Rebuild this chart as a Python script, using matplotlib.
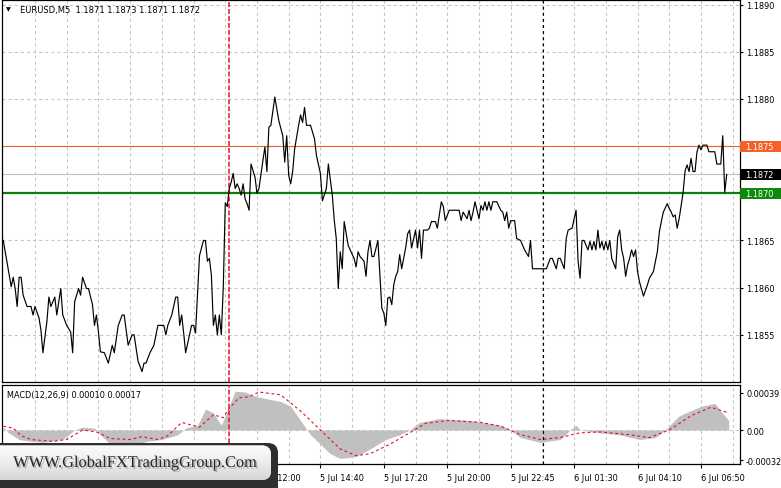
import matplotlib
matplotlib.use('Agg')
import matplotlib.pyplot as plt
import matplotlib.patheffects as pe
import matplotlib.transforms as mtransforms
from matplotlib.patches import FancyBboxPatch, Rectangle
from matplotlib.colors import LinearSegmentedColormap
import numpy as np

plt.rcParams['font.family'] = ['DejaVu Sans']
plt.rcParams['lines.scale_dashes'] = False

# ---------------- data ----------------
bar_idx = [0, 4, 5, 6, 7, 8, 9, 10, 12, 14, 15, 16, 18, 19, 20, 22, 23, 24, 26, 27, 29, 30, 32, 34, 35, 36, 38, 39, 40,
           42, 43, 45, 46, 47, 48, 49, 51, 53, 55, 56, 58, 60, 61, 63, 65, 66, 68, 70, 71, 72, 74, 76, 78, 81, 82, 83,
           85, 87, 88, 89, 90, 91, 92, 95, 96, 97, 98, 99, 101, 102, 103, 104, 105, 106, 107, 108, 109, 110, 111, 112,
           113, 114, 115, 116, 117, 118, 119, 120, 121, 122, 123, 124, 125, 126, 127, 128, 129, 131, 132, 133, 134, 135,
           137, 139, 141, 142, 143, 144, 145, 146, 147, 149, 150, 151, 152, 153, 155, 157, 158, 160, 161, 163, 164, 166,
           167, 168, 169, 170, 171, 172, 174, 175, 177, 178, 179, 180, 182, 183, 184, 185, 186, 187, 189, 190, 191, 192,
           193, 194, 195, 196, 197, 198, 199, 200, 201, 203, 204, 205, 206, 208, 209, 210, 211, 212, 214, 215, 216, 218,
           219, 220, 221, 222, 223, 225, 230, 231, 232, 234, 235, 236, 237, 238, 239, 240, 241, 242, 243, 244, 245, 246,
           247, 249, 251, 252, 253, 254, 255, 256, 258, 259, 261, 263, 265, 266, 267, 274, 276, 277, 279, 280, 281, 283,
           284, 285, 287, 288, 289, 290, 291, 292, 293, 295, 296, 297, 298, 299, 300, 301, 302, 303, 304, 305, 306, 307,
           309, 310, 311, 312, 313, 314, 315, 316, 317, 318, 319, 320, 321, 323, 325, 326, 328, 330, 331, 332, 333, 335,
           336, 337, 338, 339, 340, 341, 343, 344, 345, 346, 347, 348, 349, 350, 351, 352, 353, 355, 356, 359, 360, 362,
           363, 364, 365]
close = [1.18650, 1.18601, 1.18611, 1.18599, 1.18580, 1.18611, 1.18611, 1.18592, 1.18580, 1.18580, 1.18571, 1.18580,
         1.18568, 1.18555, 1.18531, 1.18564, 1.18590, 1.18580, 1.18590, 1.18571, 1.18599, 1.18571, 1.18560, 1.18553,
         1.18531, 1.18585, 1.18599, 1.18592, 1.18611, 1.18599, 1.18599, 1.18582, 1.18560, 1.18571, 1.18553, 1.18532,
         1.18531, 1.18520, 1.18539, 1.18531, 1.18560, 1.18571, 1.18571, 1.18539, 1.18550, 1.18550, 1.18522, 1.18511,
         1.18520, 1.18520, 1.18531, 1.18539, 1.18560, 1.18560, 1.18550, 1.18560, 1.18571, 1.18590, 1.18590, 1.18560,
         1.18571, 1.18552, 1.18531, 1.18560, 1.18560, 1.18552, 1.18592, 1.18634, 1.18650, 1.18650, 1.18628, 1.18631,
         1.18613, 1.18560, 1.18571, 1.18550, 1.18571, 1.18550, 1.18601, 1.18690, 1.18686, 1.18705, 1.18712, 1.18721,
         1.18705, 1.18710, 1.18705, 1.18698, 1.18710, 1.18694, 1.18689, 1.18682, 1.18731, 1.18724, 1.18717, 1.18700,
         1.18705, 1.18735, 1.18749, 1.18723, 1.18770, 1.18772, 1.18802, 1.18777, 1.18761, 1.18733, 1.18761, 1.18719,
         1.18710, 1.18723, 1.18747, 1.18772, 1.18783, 1.18775, 1.18791, 1.18772, 1.18772, 1.18758, 1.18740, 1.18721,
         1.18692, 1.18705, 1.18731, 1.18698, 1.18671, 1.18652, 1.18599, 1.18638, 1.18620, 1.18670, 1.18645, 1.18640,
         1.18631, 1.18622, 1.18638, 1.18633, 1.18628, 1.18612, 1.18638, 1.18650, 1.18633, 1.18633, 1.18650, 1.18613,
         1.18578, 1.18573, 1.18560, 1.18589, 1.18590, 1.18582, 1.18603, 1.18612, 1.18617, 1.18635, 1.18620, 1.18642,
         1.18657, 1.18661, 1.18642, 1.18661, 1.18642, 1.18661, 1.18631, 1.18661, 1.18661, 1.18663, 1.18670, 1.18670,
         1.18663, 1.18677, 1.18691, 1.18686, 1.18671, 1.18682, 1.18682, 1.18671, 1.18680, 1.18673, 1.18682, 1.18671,
         1.18680, 1.18691, 1.18682, 1.18673, 1.18687, 1.18682, 1.18691, 1.18682, 1.18691, 1.18682, 1.18691, 1.18691,
         1.18682, 1.18680, 1.18671, 1.18680, 1.18663, 1.18671, 1.18671, 1.18652, 1.18650, 1.18640, 1.18633, 1.18650,
         1.18620, 1.18620, 1.18631, 1.18631, 1.18620, 1.18631, 1.18631, 1.18620, 1.18652, 1.18661, 1.18663, 1.18673,
         1.18682, 1.18628, 1.18610, 1.18650, 1.18650, 1.18640, 1.18649, 1.18640, 1.18649, 1.18640, 1.18661, 1.18642,
         1.18649, 1.18640, 1.18649, 1.18640, 1.18650, 1.18631, 1.18620, 1.18654, 1.18661, 1.18640, 1.18631, 1.18612,
         1.18624, 1.18631, 1.18640, 1.18633, 1.18640, 1.18617, 1.18606, 1.18591, 1.18603, 1.18610, 1.18617, 1.18638,
         1.18659, 1.18670, 1.18680, 1.18689, 1.18684, 1.18680, 1.18675, 1.18677, 1.18663, 1.18673, 1.18701, 1.18724,
         1.18730, 1.18723, 1.18737, 1.18723, 1.18723, 1.18744, 1.18751, 1.18746, 1.18751, 1.18751, 1.18744, 1.18744,
         1.18731, 1.18731, 1.18761, 1.18701, 1.18720]

hist_idx = [0, 2, 8, 14, 20, 30, 36, 40, 46, 49, 54, 60, 66, 72, 80, 88, 92, 98, 102, 106, 110, 113, 117, 122, 128,
            140, 145, 150, 155, 160, 165, 170, 178, 185, 193, 200, 205, 210, 220, 236, 251, 256, 261, 271, 281, 286,
            289, 291, 301, 311, 321, 329, 334, 341, 352, 359, 366]
macd_hist = [0.00003, -0.00002, -0.00010, -0.00012, -0.00013, -0.00010, 0.0, 0.00003, 0.00002, -0.00005, -0.00015,
             -0.00020, -0.00018, -0.00012, -0.00010, -0.00005, 0.00002, 0.00005, 0.00022, 0.00018, 0.00005, 0.00020,
             0.00041, 0.00040, 0.00035, 0.00030, 0.00025, 0.00010, -0.00005, -0.00015, -0.00025, -0.00030, -0.00028,
             -0.00020, -0.00010, -0.00005, 0.0, 0.00008, 0.00012, 0.00010, 0.00005, 0.0, -0.00008, -0.00013, -0.00010,
             0.0, 0.00005, 0.0, -0.00003, -0.00005, -0.00010, -0.00008, 0.0, 0.00015, 0.00025, 0.00028, 0.00010]

signal_idx = [0, 5, 9, 14, 25, 32, 40, 47, 54, 64, 70, 78, 83, 90, 99, 106, 111, 114, 119, 124, 129, 140, 150, 160,
              170, 178, 185, 195, 205, 213, 225, 241, 251, 261, 271, 281, 291, 301, 316, 326, 336, 347, 357, 366]
signal = [0.00004, 0.00002, -0.00006, -0.00010, -0.00012, -0.00010, 0.0, -0.00002, -0.00009, -0.00010, -0.00007,
          -0.00010, -0.00006, 0.00008, 0.00003, 0.00016, 0.00013, 0.00023, 0.00034, 0.00035, 0.00040, 0.00037,
          0.00020, 0.0, -0.00020, -0.00027, -0.00025, -0.00015, -0.00003, 0.00007, 0.00010, 0.00008, 0.00004,
          -0.00005, -0.00010, -0.00008, -0.00003, -0.00002, -0.00005, -0.00008, 0.0, 0.00015, 0.00024, 0.00018]

price_ticks = [1.1855, 1.1860, 1.1865, 1.1870, 1.1875, 1.1880, 1.1885, 1.1890]
price_labels = ['1.1855', '1.1860', '1.1865', '', '', '1.1880', '1.1885', '1.1890']
resist_level = 1.1875
bid_level = 1.1872
support_level = 1.1870
macd_ticks = [0.00039, 0.0, -0.00032]
macd_labels = ['0.00039', '0.00', '-0.00032']
time_tick_bars = [32, 64, 96, 128, 160, 192, 224, 256, 288, 320, 352]
time_tick_labels = ['5 Jul 04:00', '5 Jul 06:40', '5 Jul 09:20', '5 Jul 12:00', '5 Jul 14:40', '5 Jul 17:20',
                    '5 Jul 20:00', '5 Jul 22:45', '6 Jul 01:30', '6 Jul 04:10', '6 Jul 06:50']
grid_bars = list(range(16, 372, 16))
red_vline_bar = 114
black_vline_bar = 272.3
title_text = 'EURUSD,M5  1.1871 1.1873 1.1871 1.1872'
macd_title = 'MACD(12,26,9) 0.00010 0.00017'
watermark = 'WWW.GlobalFXTradingGroup.Com'

# ---------------- layout ----------------
W, H = 781, 489
fig = plt.figure(figsize=(W / 100, H / 100), dpi=100)
fig.patch.set_facecolor('white')


def box(l, t, r, b):
    return [l / W, 1 - b / H, (r - l) / W, (b - t) / H]


ax = fig.add_axes(box(2, 1, 740.5, 383))
axm = fig.add_axes(box(2, 386, 740.5, 465))
XL = (-0.65, 371.95)
FS = 5.9
grid_kw = dict(color='#c4c4c4', lw=0.75, ls=(0, (2.2, 2.2)), zorder=0)
red_kw = dict(color='#e8102a', lw=1.1, ls=(0, (3.5, 1.5)), zorder=3)
blk_kw = dict(color='black', lw=0.8, ls=(0, (2.2, 2.2)), zorder=3)

# ---- main price panel ----
ax.set_xlim(*XL)
ax.set_ylim(1.18500, 1.189048)
for g in grid_bars:
    ax.axvline(g, **grid_kw)
for p in price_ticks:
    ax.axhline(p, **grid_kw)
ax.axhline(resist_level, color='#f0602a', lw=0.8, zorder=2)
ax.axhline(bid_level, color='#c0c0c0', lw=0.8, zorder=2)
ax.axhline(support_level, color='#0a800a', lw=1.6, zorder=2)
ax.axvline(red_vline_bar, **red_kw)
ax.axvline(black_vline_bar, **blk_kw)
ax.plot(bar_idx, close, color='black', lw=0.85, zorder=4)

ax.yaxis.tick_right()
ax.set_yticks(price_ticks)
ax.set_yticklabels(price_labels)
ax.tick_params(axis='y', direction='out', length=2, width=0.8, pad=2, labelsize=FS, colors='black')
ax.set_xticks([])
for s in ax.spines.values():
    s.set_color('black')
    s.set_linewidth(0.9)

# coloured price labels
yr = ax.get_ylim()
px_y = (yr[1] - yr[0]) / 382.0
tr = mtransforms.blended_transform_factory(ax.transAxes, ax.transData)
for lvl, col in [(resist_level, '#f4622a'), (bid_level, '#000000'), (support_level, '#0b8a0b')]:
    ax.add_patch(Rectangle((1.0, lvl - 5.5 * px_y), 42 / 738.5, 11 * px_y, transform=tr, facecolor=col,
                           edgecolor='none', clip_on=False, zorder=5))
    ax.text(1.0 + 5 / 738.5, lvl, f'{lvl:.4f}', transform=tr, color='white', fontsize=FS, va='center',
            ha='left', clip_on=False, zorder=6)

ax.text(18 / 738.5, 1 - 9 / 382, title_text, transform=ax.transAxes, fontsize=6, va='center', ha='left')
ax.text(4 / 738.5, 1 - 9 / 382, '\u25bc', transform=ax.transAxes, fontsize=4.5, va='center', ha='left')

# ---- MACD panel ----
axm.set_xlim(*XL)
axm.set_ylim(-0.000358, 0.000474)
for g in grid_bars:
    axm.axvline(g, **grid_kw)
axm.axhline(0, **grid_kw)
axm.fill_between(hist_idx, macd_hist, 0, color='#c0c0c0', lw=0, zorder=1)
axm.plot(signal_idx, signal, color='#e01020', lw=0.8, ls=(0, (2, 2)), zorder=3)
axm.axvline(red_vline_bar, **red_kw)
axm.axvline(black_vline_bar, **blk_kw)
axm.yaxis.tick_right()
axm.set_yticks(macd_ticks)
axm.set_yticklabels(macd_labels)
axm.tick_params(axis='y', direction='out', length=2, width=0.8, pad=2, labelsize=FS)
axm.set_xticks(time_tick_bars)
axm.set_xticklabels(time_tick_labels, ha='left')
axm.tick_params(axis='x', direction='out', length=3, width=0.8, pad=3.5, labelsize=FS)
for s in axm.spines.values():
    s.set_color('black')
    s.set_linewidth(0.9)
axm.text(5 / 738.5, 1 - 10 / 79, macd_title, transform=axm.transAxes, fontsize=FS, va='center', ha='left')

# ---- watermark box ----
axo = fig.add_axes([0, 0, 1, 1], zorder=10)
axo.set_xlim(0, W)
axo.set_ylim(H, 0)
axo.axis('off')
outer = FancyBboxPatch((-14, 444), 292, 62, boxstyle='round,pad=0,rounding_size=10', fc='#2f2f2f', ec='none')
axo.add_patch(outer)
inner = FancyBboxPatch((-14, 446.5), 285, 34.5, boxstyle='round,pad=0,rounding_size=9', fc='#ececec', ec='none')
axo.add_patch(inner)
cmap = LinearSegmentedColormap.from_list('wm', ['#fbfbfb', '#ededed', '#d6d6d6'])
im = axo.imshow(np.linspace(0, 1, 60).reshape(-1, 1), cmap=cmap, extent=(-14, 271, 481, 446.5),
                aspect='auto', zorder=2)
im.set_clip_path(inner)
axo.text(135, 464, watermark, family=['Liberation Serif'], fontsize=11.8, color='#262626', ha='center',
         va='center', zorder=3,
         path_effects=[pe.withSimplePatchShadow(offset=(1.2, -1.2), shadow_rgbFace='#9a9a9a', alpha=0.7)])
axo.set_xlim(0, W)
axo.set_ylim(H, 0)

fig.savefig('out.png', dpi=100)
